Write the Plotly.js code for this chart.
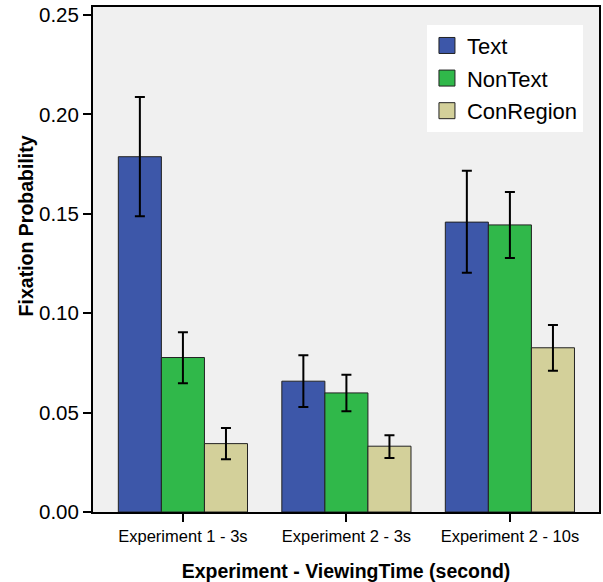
<!DOCTYPE html>
<html>
<head>
<meta charset="utf-8">
<script src="https://cdn.plot.ly/plotly-3.0.1.min.js"></script>
<style>html,body{margin:0;padding:0;background:#fff;}#chart{width:603px;height:582px;}</style>
</head>
<body>
<div id="chart"></div>
<script>
var categories = ["Experiment 1 - 3s", "Experiment 2 - 3s", "Experiment 2 - 10s"];
var seriesNames = ["Text", "NonText", "ConRegion"];
var textMean = [0.1787, 0.0658, 0.1458];
var textUpper = [0.2087, 0.0789, 0.1716];
var textLower = [0.1487, 0.0528, 0.1203];
var nonTextMean = [0.0777, 0.0599, 0.1444];
var nonTextUpper = [0.0904, 0.0690, 0.1610];
var nonTextLower = [0.0648, 0.0507, 0.1278];
var conMean = [0.0344, 0.0331, 0.0826];
var conUpper = [0.0423, 0.0386, 0.0941];
var conLower = [0.0265, 0.0272, 0.0710];
var yTickVals = [0, 0.05, 0.10, 0.15, 0.20, 0.25];
var yTitle = "Fixation Probability";
var xTitle = "Experiment - ViewingTime (second)";

var colors = ["#3d57a9", "#30b84a", "#d3d09a"];
var means = [textMean, nonTextMean, conMean];
var uppers = [textUpper, nonTextUpper, conUpper];
var lowers = [textLower, nonTextLower, conLower];

var FONT = "Arial, 'Liberation Sans', sans-serif";
var traces = [];
for (var s = 0; s < 3; s++) {
  var plus = [], minus = [];
  for (var i = 0; i < categories.length; i++) {
    plus.push(uppers[s][i] - means[s][i]);
    minus.push(means[s][i] - lowers[s][i]);
  }
  traces.push({
    type: "bar",
    name: seriesNames[s],
    x: categories,
    y: means[s],
    showlegend: false,
    marker: {color: colors[s], line: {color: "#222", width: 1}},
    error_y: {type: "data", symmetric: false, array: plus, arrayminus: minus,
              color: "#000", thickness: 2, width: 5},
    hoverinfo: "y"
  });
}
for (var s2 = 0; s2 < 3; s2++) {
  traces.push({
    type: "scatter", mode: "markers", name: seriesNames[s2],
    legendgroup: "g" + s2,
    x: [null], y: [null], showlegend: true,
    marker: {symbol: "square", size: 16, color: colors[s2], line: {color: "#222", width: 1}}
  });
}

var layout = {
  width: 603, height: 582,
  margin: {l: 93, r: 4, t: 7, b: 70},
  paper_bgcolor: "#ffffff",
  plot_bgcolor: "#f0f0f0",
  barmode: "group",
  bargap: 0.21,
  bargroupgap: 0,
  font: {family: FONT, color: "#000"},
  showlegend: true,
  legend: {
    x: 0.66, y: 0.965, xanchor: "left", yanchor: "top",
    bgcolor: "#ffffff", borderwidth: 0,
    font: {family: FONT, size: 22, color: "#000"},
    tracegroupgap: 1, itemwidth: 30
  },
  xaxis: {
    type: "category",
    range: [-0.55, 2.545],
    showline: true, linecolor: "#000", linewidth: 2, mirror: true,
    ticks: "outside", ticklen: 8, tickwidth: 2, tickcolor: "#000",
    tickfont: {family: FONT, size: 16.5, color: "#000"},
    showgrid: false, zeroline: false,
    title: {text: xTitle, standoff: 22,
            font: {family: FONT, size: 19.5, color: "#000", weight: "bold"}}
  },
  yaxis: {
    range: [0, 0.254],
    tickvals: yTickVals, tickformat: ".2f",
    showline: true, linecolor: "#000", linewidth: 2, mirror: true,
    ticks: "outside", ticklen: 8, tickwidth: 2, tickcolor: "#000",
    tickfont: {family: FONT, size: 20.5, color: "#000"},
    showgrid: false, zeroline: false
  },
  annotations: [{
    text: yTitle, textangle: -90, showarrow: false,
    xref: "paper", yref: "paper", x: -0.132, y: 0.566,
    xanchor: "center", yanchor: "middle",
    font: {family: FONT, size: 19.5, color: "#000", weight: "bold"}
  }]
};

Plotly.newPlot("chart", traces, layout, {displayModeBar: false, staticPlot: true});
</script>
</body>
</html>
